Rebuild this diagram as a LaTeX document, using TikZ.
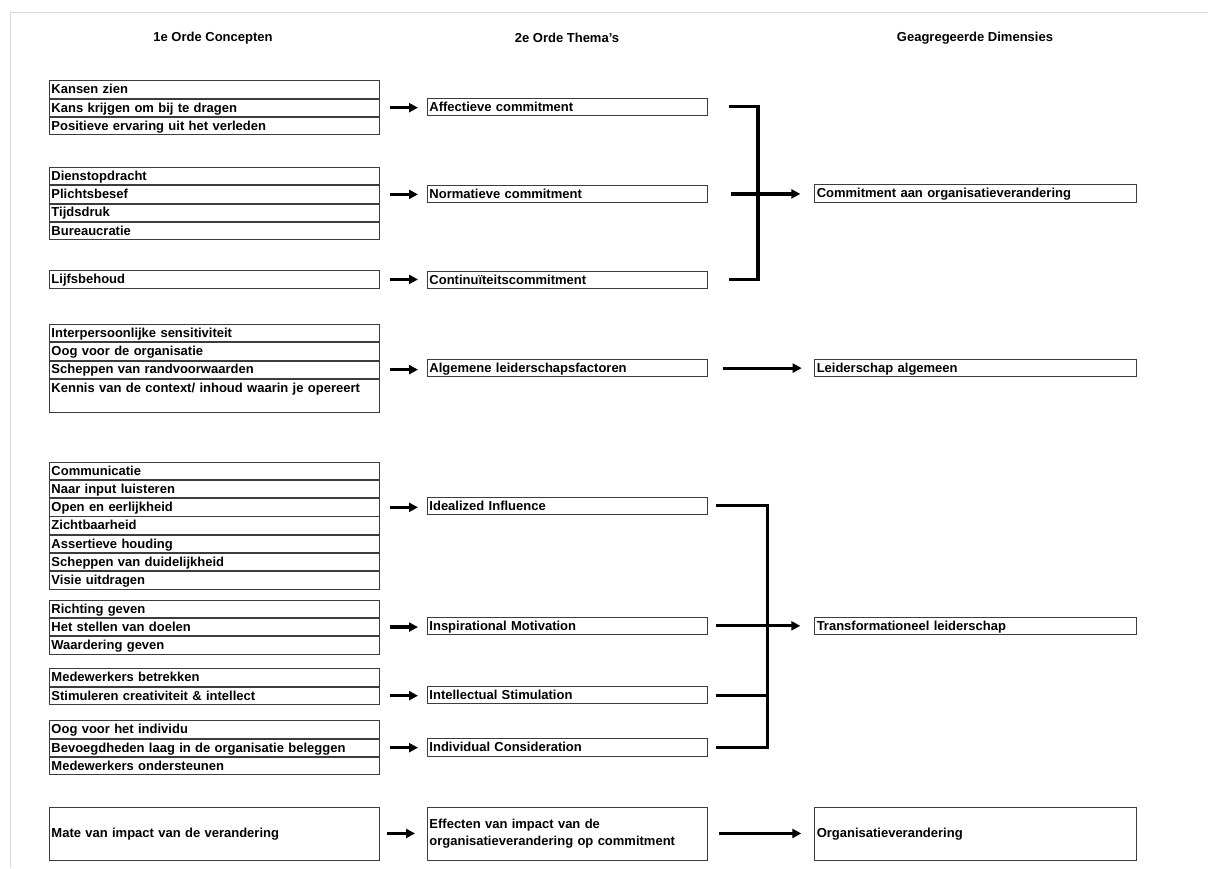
\documentclass[tikz,border=0pt]{standalone}
\usepackage{fontspec}
\setmainfont{Liberation Sans}
\usetikzlibrary{arrows.meta,calc}
\definecolor{boxc}{HTML}{3C3C3C}
\definecolor{framec}{HTML}{D9D9D9}
\begin{document}
\begin{tikzpicture}[x=1pt,y=-1pt,
  every node/.style={font=\bfseries\fontsize{13}{15}\selectfont},
  base/.style={draw=boxc, line width=0.9pt, anchor=north west, inner xsep=2pt, inner ysep=0pt, align=left},
  one/.style={text height=10.5pt, text depth=1.8pt},
  row/.style={base, one, text width=326pt, minimum height=17.35pt},
  mid/.style={base, one, text width=276pt, minimum height=17.35pt},
  dim/.style={base, one, text width=317.4pt, minimum height=17.35pt},
  tall/.style={minimum height=53pt},
  arr/.style={line width=3.2pt, -{Triangle[length=9pt,width=9pt]}, shorten <=10pt, shorten >=9pt},
  bar/.style={line width=3.2pt},
  head/.style={font=\bfseries\fontsize{13}{15}\selectfont}
]
\useasboundingbox (0,0) rectangle (1208,868);
\draw[framec, line width=1pt] (10,868) -- (10,12) -- (1208,12);

% headers
\node[head] (hd1) at (213,38) {1e Orde Concepten};
\node[head] (hd2) at (567,38) {2e Orde Thema's};
\node[head] (hd3) at (975,38) {Geagregeerde Dimensies};

% first-order concepts
\node[row] (a1) at (49,80.3) {Kansen zien};
\node[row] (a2) at (a1.south west) {Kans krijgen om bij te dragen};
\node[row] (a3) at (a2.south west) {Positieve ervaring uit het verleden};

\node[row] (b1) at (49,167) {Dienstopdracht};
\node[row] (b2) at (b1.south west) {Plichtsbesef};
\node[row] (b3) at (b2.south west) {Tijdsdruk};
\node[row] (b4) at (b3.south west) {Bureaucratie};

\node[row] (c1) at (49,270.3) {Lijfsbehoud};

\node[row] (d1) at (49,324) {Interpersoonlijke sensitiviteit};
\node[row] (d2) at (d1.south west) {Oog voor de organisatie};
\node[row] (d3) at (d2.south west) {Scheppen van randvoorwaarden};
\node[row, inner ysep=2.5pt, text depth=18pt] (d4) at (d3.south west) {Kennis van de context/ inhoud waarin je opereert};

\node[row] (e1) at (49,461.7) {Communicatie};
\node[row] (e2) at (e1.south west) {Naar input luisteren};
\node[row] (e3) at (e2.south west) {Open en eerlijkheid};
\node[row] (e4) at (e3.south west) {Zichtbaarheid};
\node[row] (e5) at (e4.south west) {Assertieve houding};
\node[row] (e6) at (e5.south west) {Scheppen van duidelijkheid};
\node[row] (e7) at (e6.south west) {Visie uitdragen};

\node[row] (f1) at (49,599.7) {Richting geven};
\node[row] (f2) at (f1.south west) {Het stellen van doelen};
\node[row] (f3) at (f2.south west) {Waardering geven};

\node[row] (g1) at (49,668.3) {Medewerkers betrekken};
\node[row] (g2) at (g1.south west) {Stimuleren creativiteit \& intellect};

\node[row] (k1) at (49,720.3) {Oog voor het individu};
\node[row] (k2) at (k1.south west) {Bevoegdheden laag in de organisatie beleggen};
\node[row] (k3) at (k2.south west) {Medewerkers ondersteunen};

\node[row, tall] (m1) at (49,806.5) {Mate van impact van de verandering};

% second-order themes
\node[mid] (aff) at (427,97.7) {Affectieve commitment};
\node[mid] (norm) at (427,184.8) {Normatieve commitment};
\node[mid] (cont) at (427,270.7) {Continuïteitscommitment};
\node[mid] (alg) at (427,359) {Algemene leiderschapsfactoren};
\node[mid] (ideal) at (427,496.7) {Idealized Influence};
\node[mid] (insp) at (427,616.7) {Inspirational Motivation};
\node[mid] (intel) at (427,686) {Intellectual Stimulation};
\node[mid] (indiv) at (427,738.3) {Individual Consideration};
\node[base, text width=276pt, tall, font=\bfseries\fontsize{13}{17.5}\selectfont] (eff) at (427,806.5) {Effecten van impact van de\\organisatieverandering op commitment};

% aggregated dimensions
\node[dim] (caan) at (814.3,184.3) {Commitment aan organisatieverandering};
\node[dim] (leid) at (814.3,359) {Leiderschap algemeen};
\node[dim] (trans) at (814.3,616.7) {Transformationeel leiderschap};
\node[dim, tall] (orgv) at (814.3,806.5) {Organisatieverandering};

% arrows first -> second order
\draw[arr] (a2.east) -- (a2.east -| aff.west);
\draw[arr] (b2.east) -- (b2.east -| norm.west);
\draw[arr] (c1.east) -- (c1.east -| cont.west);
\draw[arr] (d3.east) -- (d3.east -| alg.west);
\draw[arr] (e3.east) -- (e3.east -| ideal.west);
\draw[arr] (f2.east) -- (f2.east -| insp.west);
\draw[arr] (g2.east) -- (g2.east -| intel.west);
\draw[arr] (k2.east) -- (k2.east -| indiv.west);
\draw[arr, shorten <=7pt, shorten >=12pt] (m1) -- (eff);

% commitment bracket
\draw[bar] ([xshift=21pt]aff.east) -| ([xshift=50pt]cont.east) -- ([xshift=21pt]cont.east);
\draw[arr, shorten <=23pt, shorten >=14pt] (norm.east) -- (norm.east -| caan.west);

% leadership general
\draw[arr, shorten <=14.7pt, shorten >=12.6pt] (alg.east) -- (alg.east -| leid.west);

% transformational bracket
\draw[bar] ([xshift=8pt]ideal.east) -| ([xshift=59.7pt]indiv.east) -- ([xshift=8pt]indiv.east);
\draw[bar] ([xshift=8pt]intel.east) -- ([xshift=59.7pt]intel.east);
\draw[arr, shorten <=8pt, shorten >=14pt] (insp.east) -- (insp.east -| trans.west);

% bottom
\draw[arr, shorten <=11pt, shorten >=13pt] (eff) -- (orgv);
\end{tikzpicture}
\end{document}
